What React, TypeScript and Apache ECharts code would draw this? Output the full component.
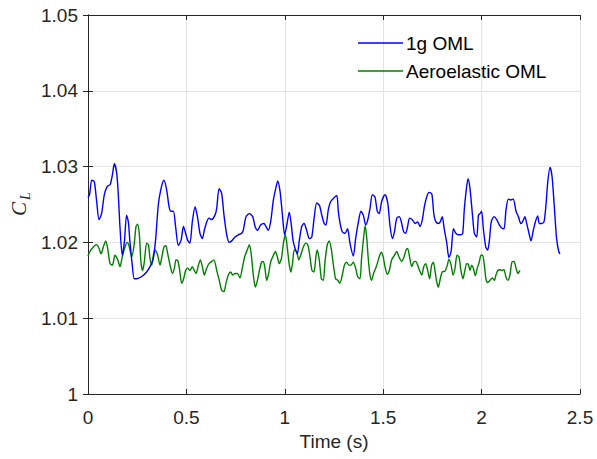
import React, { useEffect, useRef } from "react";
import * as echarts from "echarts";

const xTicks = [0, 0.5, 1, 1.5, 2, 2.5];
const yTicks = [1, 1.01, 1.02, 1.03, 1.04, 1.05];
const seriesNames = ["1g OML", "Aeroelastic OML"];

const blueTime = [
  0, 0.008, 0.019, 0.032, 0.044, 0.056, 0.069, 0.083, 0.098, 0.112, 0.124, 0.134, 0.146, 0.154, 0.163, 0.174,
  0.185, 0.196, 0.205, 0.213, 0.225, 0.235, 0.247, 0.273, 0.298, 0.315, 0.332, 0.344, 0.357, 0.371, 0.386, 0.4,
  0.412, 0.422, 0.434, 0.445, 0.459, 0.473, 0.485, 0.496, 0.506, 0.518, 0.53, 0.544, 0.556, 0.569, 0.581, 0.591,
  0.603, 0.615, 0.628, 0.645, 0.654, 0.666, 0.679, 0.691, 0.705, 0.718, 0.73, 0.747, 0.764, 0.781, 0.789, 0.803,
  0.82, 0.837, 0.849, 0.862, 0.877, 0.894, 0.904, 0.916, 0.928, 0.942, 0.954, 0.964, 0.976, 0.988, 0.999, 1.009,
  1.023, 1.033, 1.043, 1.055, 1.064, 1.074, 1.086, 1.098, 1.111, 1.125, 1.137, 1.149, 1.162, 1.176, 1.188, 1.2,
  1.209, 1.221, 1.233, 1.247, 1.264, 1.272, 1.281, 1.292, 1.306, 1.319, 1.331, 1.348, 1.36, 1.374, 1.387, 1.399,
  1.411, 1.421, 1.433, 1.445, 1.458, 1.47, 1.48, 1.492, 1.509, 1.523, 1.535, 1.547, 1.557, 1.569, 1.582, 1.594,
  1.604, 1.614, 1.624, 1.634, 1.648, 1.662, 1.675, 1.687, 1.699, 1.709, 1.721, 1.733, 1.747, 1.758, 1.768, 1.78,
  1.79, 1.8, 1.81, 1.822, 1.834, 1.845, 1.857, 1.869, 1.882, 1.895, 1.904, 1.912, 1.921, 1.931, 1.941, 1.953,
  1.963, 1.975, 1.984, 1.992, 2.0, 2.009, 2.021, 2.031, 2.039, 2.049, 2.063, 2.077, 2.09, 2.102, 2.114, 2.124,
  2.136, 2.148, 2.161, 2.175, 2.187, 2.199, 2.208, 2.22, 2.229, 2.241, 2.251, 2.263, 2.273, 2.285, 2.293, 2.305,
  2.317, 2.327, 2.337, 2.348, 2.358, 2.369, 2.381, 2.392, 2.398,
];
const blueValues = [
  1.0259, 1.0263, 1.0282, 1.028, 1.0254, 1.023, 1.0238, 1.0263, 1.0274, 1.0276, 1.0289, 1.0304, 1.0291, 1.0263, 1.0218, 1.0183,
  1.0201, 1.0236, 1.0227, 1.0201, 1.017, 1.0152, 1.0152, 1.0155, 1.0161, 1.0168, 1.0179, 1.0205, 1.0249, 1.0271, 1.0282, 1.0269,
  1.0247, 1.0241, 1.0241, 1.0221, 1.0196, 1.0203, 1.0221, 1.0212, 1.0203, 1.0199, 1.0227, 1.0247, 1.0234, 1.0212, 1.0205, 1.0216,
  1.0227, 1.0232, 1.023, 1.0236, 1.0245, 1.0271, 1.0265, 1.0236, 1.021, 1.02, 1.0202, 1.0207, 1.021, 1.0212, 1.0216, 1.0234,
  1.0238, 1.0234, 1.0221, 1.0216, 1.0223, 1.0225, 1.0221, 1.0216, 1.0227, 1.0256, 1.0271, 1.0281, 1.0267, 1.0236, 1.021, 1.0221,
  1.024, 1.0223, 1.0201, 1.019, 1.0185, 1.0203, 1.0221, 1.0225, 1.0216, 1.0205, 1.0207, 1.0232, 1.0252, 1.0249, 1.0236, 1.0225,
  1.0223, 1.0243, 1.0254, 1.0258, 1.0262, 1.0241, 1.0225, 1.0214, 1.0212, 1.0218, 1.0199, 1.0182, 1.0205, 1.0227, 1.0241, 1.0236,
  1.0223, 1.0229, 1.0245, 1.0263, 1.026, 1.0241, 1.0238, 1.0254, 1.0263, 1.0252, 1.0221, 1.0205, 1.0214, 1.0232, 1.0234, 1.0225,
  1.0214, 1.0212, 1.0221, 1.0232, 1.023, 1.0225, 1.0227, 1.0221, 1.023, 1.0247, 1.026, 1.0266, 1.0264, 1.0236, 1.0227, 1.0225,
  1.0227, 1.0234, 1.0218, 1.0201, 1.018, 1.0188, 1.0218, 1.0212, 1.021, 1.021, 1.0212, 1.0243, 1.0267, 1.0284, 1.0271, 1.0238,
  1.0212, 1.0207, 1.0236, 1.0238, 1.0241, 1.0218, 1.0194, 1.019, 1.0201, 1.0227, 1.0234, 1.023, 1.0223, 1.0219, 1.0218, 1.0243,
  1.0257, 1.0256, 1.0257, 1.0241, 1.0234, 1.0225, 1.0227, 1.0234, 1.0225, 1.0212, 1.0202, 1.0216, 1.0227, 1.0235, 1.0225, 1.0225,
  1.0227, 1.0249, 1.0282, 1.0299, 1.0287, 1.0249, 1.0205, 1.0188, 1.0185,
];

const greenTime = [
  0, 0.01, 0.027, 0.044, 0.056, 0.066, 0.078, 0.09, 0.1, 0.112, 0.124, 0.137, 0.151, 0.163, 0.174, 0.188,
  0.2, 0.21, 0.222, 0.234, 0.244, 0.252, 0.261, 0.269, 0.278, 0.286, 0.298, 0.307, 0.315, 0.324, 0.332, 0.34,
  0.352, 0.366, 0.374, 0.386, 0.395, 0.405, 0.417, 0.429, 0.439, 0.447, 0.456, 0.466, 0.476, 0.486, 0.496, 0.506,
  0.518, 0.53, 0.54, 0.549, 0.561, 0.571, 0.581, 0.591, 0.603, 0.615, 0.628, 0.64, 0.654, 0.667, 0.679, 0.691,
  0.701, 0.713, 0.725, 0.735, 0.747, 0.759, 0.772, 0.784, 0.796, 0.809, 0.82, 0.83, 0.84, 0.85, 0.861, 0.871,
  0.882, 0.891, 0.899, 0.908, 0.918, 0.928, 0.942, 0.952, 0.962, 0.972, 0.983, 0.993, 1.003, 1.013, 1.023, 1.031,
  1.04, 1.048, 1.06, 1.071, 1.081, 1.094, 1.108, 1.118, 1.128, 1.138, 1.148, 1.159, 1.165, 1.175, 1.186, 1.196,
  1.204, 1.216, 1.226, 1.237, 1.247, 1.258, 1.269, 1.28, 1.292, 1.303, 1.314, 1.326, 1.336, 1.348, 1.36, 1.37,
  1.382, 1.39, 1.4, 1.408, 1.416, 1.424, 1.433, 1.441, 1.451, 1.462, 1.472, 1.48, 1.49, 1.5, 1.509, 1.521,
  1.531, 1.543, 1.557, 1.569, 1.58, 1.594, 1.606, 1.616, 1.624, 1.634, 1.645, 1.655, 1.665, 1.675, 1.685, 1.696,
  1.706, 1.716, 1.726, 1.736, 1.746, 1.755, 1.763, 1.772, 1.78, 1.79, 1.8, 1.814, 1.826, 1.834, 1.845, 1.855,
  1.865, 1.875, 1.885, 1.895, 1.905, 1.916, 1.924, 1.933, 1.941, 1.95, 1.958, 1.968, 1.978, 1.988, 1.997, 2.005,
  2.014, 2.022, 2.031, 2.043, 2.055, 2.065, 2.073, 2.082, 2.094, 2.104, 2.114, 2.124, 2.134, 2.144, 2.154, 2.165,
  2.175, 2.185, 2.195,
];
const greenValues = [
  1.0182, 1.0188, 1.0194, 1.0197, 1.0192, 1.0185, 1.0194, 1.0202, 1.0192, 1.0172, 1.017, 1.0183, 1.0177, 1.0168, 1.0181, 1.0194,
  1.02, 1.0194, 1.0181, 1.0196, 1.0221, 1.0224, 1.021, 1.0174, 1.0163, 1.0174, 1.0199, 1.0197, 1.0179, 1.017, 1.0183, 1.019,
  1.0185, 1.017, 1.0179, 1.0194, 1.0196, 1.0185, 1.017, 1.0159, 1.0166, 1.0177, 1.0176, 1.0163, 1.0146, 1.0152, 1.0163, 1.0166,
  1.0163, 1.0168, 1.0163, 1.0159, 1.017, 1.0177, 1.0168, 1.0157, 1.0166, 1.0172, 1.0175, 1.0177, 1.0163, 1.015, 1.0137, 1.0135,
  1.0146, 1.0157, 1.0161, 1.0157, 1.0159, 1.0159, 1.0153, 1.0166, 1.0181, 1.019, 1.0197, 1.0183, 1.0157, 1.0141, 1.015, 1.0163,
  1.0174, 1.0175, 1.0166, 1.015, 1.0159, 1.0174, 1.0183, 1.0188, 1.0181, 1.0172, 1.0179, 1.0199, 1.021, 1.0192, 1.017, 1.0161,
  1.0174, 1.019, 1.0188, 1.0177, 1.0183, 1.0194, 1.0199, 1.0196, 1.0181, 1.0163, 1.0161, 1.0183, 1.019, 1.0177, 1.0152, 1.015,
  1.0174, 1.0197, 1.0202, 1.019, 1.017, 1.0152, 1.015, 1.0146, 1.0157, 1.017, 1.0174, 1.017, 1.017, 1.0174, 1.0166, 1.0155,
  1.0152, 1.0179, 1.0205, 1.0222, 1.0207, 1.0179, 1.0157, 1.015, 1.0159, 1.0166, 1.0174, 1.0181, 1.0187, 1.0181, 1.0168, 1.0158,
  1.0163, 1.0177, 1.0183, 1.0188, 1.0181, 1.0175, 1.0181, 1.019, 1.0192, 1.0181, 1.0168, 1.0174, 1.0175, 1.017, 1.0163, 1.0157,
  1.0168, 1.0172, 1.0163, 1.0152, 1.017, 1.0174, 1.0163, 1.0148, 1.0141, 1.0152, 1.0161, 1.0162, 1.017, 1.0178, 1.017, 1.0157,
  1.0166, 1.0183, 1.0181, 1.0163, 1.0152, 1.0164, 1.0172, 1.0171, 1.0163, 1.017, 1.0166, 1.0156, 1.0166, 1.0174, 1.0183, 1.0183,
  1.017, 1.0152, 1.0147, 1.015, 1.0153, 1.015, 1.0157, 1.0163, 1.0164, 1.0163, 1.0164, 1.0154, 1.015, 1.0157, 1.0174, 1.0175,
  1.0166, 1.0159, 1.0163,
];

const FONT = "'Liberation Sans', Arial, Helvetica, sans-serif";
const AXIS_COLOR = "#262626";
const GRID_COLOR = "#e3e3e3";

export default function App() {
  const ref = useRef<HTMLDivElement>(null);
  useEffect(() => {
    if (!ref.current) return;
    const chart = echarts.init(ref.current, null, { renderer: "svg" });
    const blueData = blueTime.map((t, i) => [t, blueValues[i]]);
    const greenData = greenTime.map((t, i) => [t, greenValues[i]]);
    const xMin = xTicks[0];
    const xMax = xTicks[xTicks.length - 1];
    const yMin = yTicks[0];
    const yMax = yTicks[yTicks.length - 1];
    const axisLine = { show: true, lineStyle: { color: AXIS_COLOR, width: 1 } };
    const tick = { show: true, inside: true, length: 5, lineStyle: { color: AXIS_COLOR, width: 1 } };
    chart.setOption({
      animation: false,
      backgroundColor: "#ffffff",
      grid: { left: 88, right: 17, top: 15, bottom: 65, containLabel: false },
      legend: {
        orient: "vertical",
        left: 353,
        top: 27,
        icon: "rect",
        itemWidth: 45,
        itemHeight: 1.5,
        itemGap: 6,
        textStyle: { fontFamily: FONT, fontSize: 19, color: "#000", lineHeight: 22, padding: [0, 0, 0, -2] },
        data: seriesNames,
      },
      xAxis: [
        {
          type: "value",
          min: xMin,
          max: xMax,
          interval: 0.5,
          position: "bottom",
          axisLine,
          axisTick: tick,
          splitLine: { show: true, lineStyle: { color: GRID_COLOR, width: 1 } },
          axisLabel: {
            fontFamily: FONT,
            fontSize: 19,
            color: "#262626",
            margin: 14,
            formatter: (v: number) => String(v),
          },
          name: "Time (s)",
          nameLocation: "middle",
          nameGap: 35,
          nameTextStyle: { fontFamily: FONT, fontSize: 19, color: "#262626" },
        },
        {
          type: "value",
          min: xMin,
          max: xMax,
          interval: 0.5,
          position: "top",
          axisLine,
          axisTick: tick,
          axisLabel: { show: false },
          splitLine: { show: false },
        },
      ],
      yAxis: [
        {
          type: "value",
          min: yMin,
          max: yMax,
          interval: 0.01,
          position: "left",
          axisLine,
          axisTick: tick,
          splitLine: { show: true, lineStyle: { color: GRID_COLOR, width: 1 } },
          axisLabel: {
            fontFamily: FONT,
            fontSize: 19,
            color: "#262626",
            margin: 10,
            formatter: (v: number) => String(Math.round(v * 100) / 100),
          },
        },
        {
          type: "value",
          min: yMin,
          max: yMax,
          interval: 0.01,
          position: "right",
          axisLine,
          axisTick: tick,
          axisLabel: { show: false },
          splitLine: { show: false },
        },
      ],
      graphic: [
        {
          type: "group",
          x: 19,
          y: 209,
          rotation: Math.PI / 2,
          children: [
            {
              type: "text",
              x: 0,
              y: 0,
              style: {
                text: "C",
                font: "italic 21px 'Liberation Serif', 'Times New Roman', serif",
                fill: "#262626",
                textAlign: "center",
                textVerticalAlign: "middle",
              },
            },
            {
              type: "text",
              x: 13,
              y: 6,
              style: {
                text: "L",
                font: "italic 14px 'Liberation Serif', 'Times New Roman', serif",
                fill: "#262626",
                textAlign: "center",
                textVerticalAlign: "middle",
              },
            },
          ],
        },
      ],
      series: [
        {
          name: seriesNames[0],
          type: "line",
          data: blueData,
          showSymbol: false,
          symbol: "none",
          smooth: 0.25,
          lineStyle: { color: "#0000ff", width: 1.4 },
          itemStyle: { color: "#0000ff" },
          z: 3,
        },
        {
          name: seriesNames[1],
          type: "line",
          data: greenData,
          showSymbol: false,
          symbol: "none",
          smooth: 0.25,
          lineStyle: { color: "#008000", width: 1.4 },
          itemStyle: { color: "#008000" },
          z: 2,
        },
      ],
    });
    return () => chart.dispose();
  }, []);
  return (
    <div
      ref={ref}
      style={{ position: "fixed", left: 0, top: 0, width: 597, height: 459, background: "#fff" }}
    />
  );
}
